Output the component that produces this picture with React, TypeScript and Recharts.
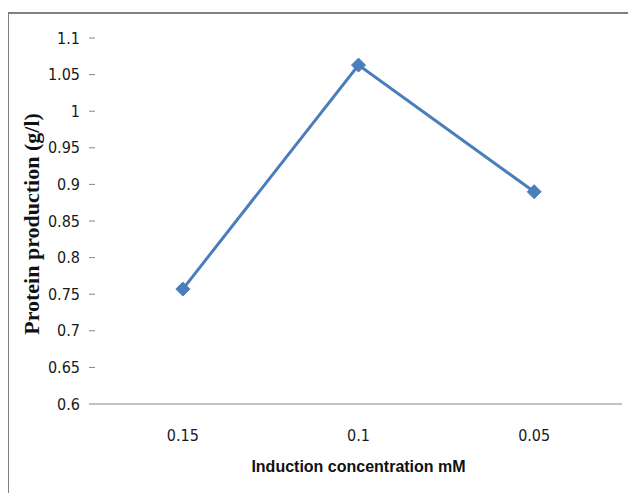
import { LineChart, Line, XAxis, YAxis, Label } from "recharts"

// Induction concentration (mM) vs protein production (g/l)
const categories = ["0.15", "0.1", "0.05"]
const production = [0.757, 1.063, 0.89]
const yTicks = [0.6, 0.65, 0.7, 0.75, 0.8, 0.85, 0.9, 0.95, 1, 1.05, 1.1]

const data = categories.map((conc, i) => ({ conc, protein: production[i] }))

const tickFont = {
  fontFamily: '"DejaVu Sans Condensed", "Liberation Sans", sans-serif',
  fontStretch: "condensed",
  fontSize: 16,
  fill: "#1a1a1a",
}

// diamond marker, centred on the point recharts hands us
function Diamond(props: any) {
  const { cx, cy } = props
  if (cx == null || cy == null) return null
  const r = 7
  return (
    <polygon
      points={`${cx},${cy - r} ${cx + r},${cy} ${cx},${cy + r} ${cx - r},${cy}`}
      fill="#4a7ebb"
      stroke="#4a7ebb"
    />
  )
}

export default function App() {
  return (
    <div style={{ position: "relative", width: 628, height: 485 }}>
      <div
        style={{
          position: "absolute",
          top: 4,
          left: -1,
          right: 0,
          bottom: 0,
          borderTop: "2px solid #808080",
          borderLeft: "2px solid #808080",
        }}
      />
      <LineChart
        width={628}
        height={485}
        data={data}
        margin={{ top: 30, right: 14, bottom: 0, left: 0 }}
        style={{ position: "absolute", top: 0, left: 0 }}
      >
        <XAxis
          dataKey="conc"
          scale="band"
          height={89}
          axisLine={{ stroke: "#868686" }}
          tickLine={false}
          tickMargin={20}
          tick={tickFont}
        >
          <Label
            value="Induction concentration mM"
            position="insideBottom"
            offset={21}
            style={{ fontFamily: '"Liberation Sans", sans-serif', fontSize: 16, fontWeight: "bold", fill: "#111" }}
          />
        </XAxis>
        <YAxis
          width={87}
          domain={[0.6, 1.1]}
          ticks={yTicks}
          interval={0}
          axisLine={false}
          tickLine={{ stroke: "#868686" }}
          tickSize={6}
          tickMargin={9}
          tick={tickFont}
        >
          <Label
            value="Protein production (g/l)"
            angle={-90}
            position="insideLeft"
            offset={23}
            dy={3}
            style={{ textAnchor: "middle", fontFamily: '"Liberation Serif", "Times New Roman", serif', fontSize: 22, fontWeight: "bold", fill: "#111" }}
          />
        </YAxis>
        <Line
          dataKey="protein"
          stroke="#4a7ebb"
          strokeWidth={3}
          dot={<Diamond />}
          activeDot={false}
          isAnimationActive={false}
        />
      </LineChart>
    </div>
  )
}
